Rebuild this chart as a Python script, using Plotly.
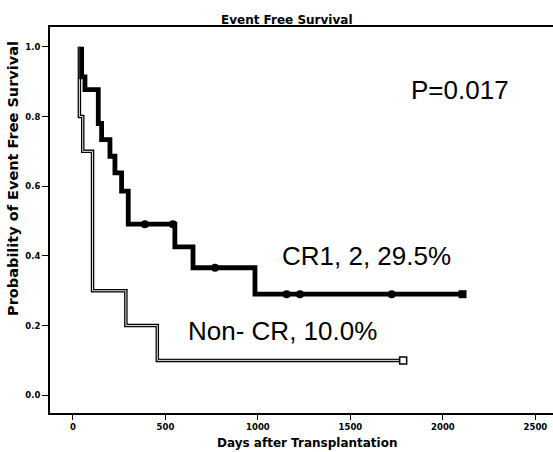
import plotly.graph_objects as go

# ---- data ----
cr_event_days = [47, 65, 137, 155, 200, 227, 263, 299, 551, 649, 984]
cr_survival = [0.914, 0.877, 0.78, 0.734, 0.686, 0.638, 0.586, 0.491, 0.426, 0.366, 0.29]
cr_last_day = 2106
cr_censor_days = [389, 540, 768, 1155, 1227, 1723]

noncr_start_day = 35
noncr_event_days = [35, 53, 106, 286, 456]
noncr_survival = [0.8, 0.7, 0.3, 0.2, 0.1]
noncr_last_day = 1785

x_ticks = [0, 500, 1000, 1500, 2000, 2500]
y_ticks = [0.0, 0.2, 0.4, 0.6, 0.8, 1.0]

title_text = "Event Free Survival"
x_title = "Days after Transplantation"
y_title = "Probability of Event Free Survival"
p_text = "P=0.017"
cr_label = "CR1, 2, 29.5%"
noncr_label = "Non- CR, 10.0%"


def step_curve(start, days, surv, last):
    xs = [start] + list(days) + [last]
    ys = [1.0] + list(surv) + [surv[-1]]
    return xs, ys


def surv_at(t, days, surv):
    s = 1.0
    for d, v in zip(days, surv):
        if d <= t:
            s = v
    return s


fig = go.Figure()

# Non-CR curve: black outline with light core
nx, ny = step_curve(noncr_start_day, noncr_event_days, noncr_survival, noncr_last_day)
fig.add_trace(go.Scatter(x=nx, y=ny, mode="lines", line=dict(shape="hv", color="black", width=3.5),
                         hoverinfo="skip", showlegend=False))
fig.add_trace(go.Scatter(x=nx, y=ny, mode="lines", line=dict(shape="hv", color="#e6e6e6", width=1.0),
                         hoverinfo="skip", showlegend=False))
fig.add_trace(go.Scatter(x=[noncr_last_day], y=[noncr_survival[-1]], mode="markers",
                         marker=dict(symbol="square", size=7, color="white",
                                     line=dict(color="black", width=1.5)),
                         showlegend=False))

# CR curve: thick black
cx, cy = step_curve(cr_event_days[0], cr_event_days, cr_survival, cr_last_day)
fig.add_trace(go.Scatter(x=cx, y=cy, mode="lines", line=dict(shape="hv", color="black", width=4.8),
                         hoverinfo="skip", showlegend=False))
fig.add_trace(go.Scatter(x=cr_censor_days,
                         y=[surv_at(t, cr_event_days, cr_survival) for t in cr_censor_days],
                         mode="markers", marker=dict(symbol="circle", size=8, color="black"),
                         showlegend=False))
fig.add_trace(go.Scatter(x=[cr_last_day], y=[cr_survival[-1]], mode="markers",
                         marker=dict(symbol="square", size=8, color="black"),
                         showlegend=False))

bold_small = dict(family="DejaVu Sans", size=8.5, color="black", weight="bold")

fig.update_xaxes(range=[-124, 2595], tickvals=x_ticks, ticktext=[str(v) for v in x_ticks],
                 showgrid=False, zeroline=False, showline=True, linecolor="black", linewidth=2,
                 mirror=True, ticks="outside", ticklen=5, tickwidth=1, tickcolor="black",
                 tickfont=bold_small)
fig.update_yaxes(range=[-0.051, 1.057], tickvals=y_ticks, ticktext=[f"{v:.1f}" for v in y_ticks],
                 showgrid=False, zeroline=False, showline=True, linecolor="black", linewidth=2,
                 ticks="outside", ticklen=6, tickwidth=1, tickcolor="black",
                 tickfont=bold_small)

big = dict(family="Liberation Sans", size=26, color="black")
fig.update_layout(
    width=553, height=452,
    margin=dict(l=50, r=0, t=27, b=39),
    paper_bgcolor="white", plot_bgcolor="white",
    annotations=[
        dict(text=title_text, xref="paper", yref="paper", x=0.4712, y=1.018,
             xanchor="center", yanchor="middle", showarrow=False,
             font=dict(family="DejaVu Sans", size=12, color="black", weight="bold")),
        dict(text=x_title, xref="paper", yref="paper", x=0.511, y=-0.078,
             xanchor="center", yanchor="middle", showarrow=False,
             font=dict(family="DejaVu Sans", size=12, color="black", weight="bold")),
        dict(text=y_title, xref="paper", yref="paper", x=-0.0736, y=0.609,
             xanchor="center", yanchor="middle", showarrow=False, textangle=-90,
             font=dict(family="DejaVu Sans", size=14.5, color="black", weight="bold")),
        dict(text=p_text, xref="paper", yref="paper", x=0.815, y=0.838,
             xanchor="center", yanchor="middle", showarrow=False, font=big),
        dict(text=cr_label, xref="paper", yref="paper", x=0.629, y=0.407,
             xanchor="center", yanchor="middle", showarrow=False, font=big),
        dict(text=noncr_label, xref="paper", yref="paper", x=0.463, y=0.2124,
             xanchor="center", yanchor="middle", showarrow=False, font=big),
    ],
)

fig.write_html("out.html", config={"displayModeBar": False},
               post_script="document.body.style.margin='0';document.body.style.overflow='hidden';")
